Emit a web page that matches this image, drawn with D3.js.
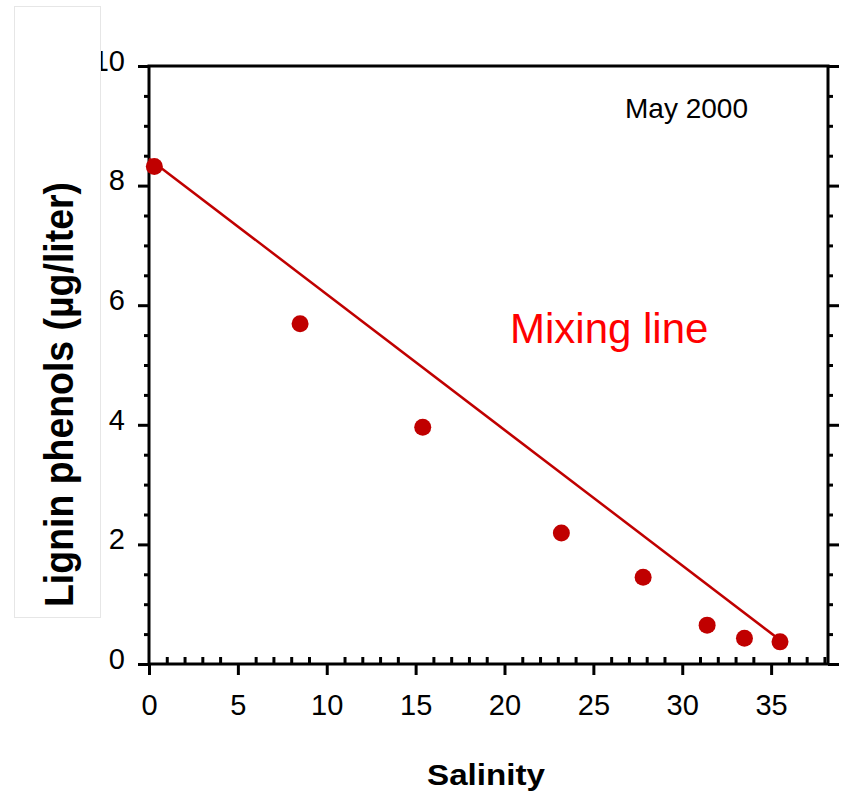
<!DOCTYPE html>
<meta charset="utf-8">
<head>
    <style>
        body { margin: 0; background: #fff; }
        .tick text { font-family: "Liberation Sans", Arial, sans-serif; font-size: 29px; fill: #000; }
        .axis-title { font-family: "Liberation Sans", Arial, sans-serif; font-weight: 700; text-anchor: middle; }
        .note { font-family: "Liberation Sans", Arial, sans-serif; }
    </style>
</head>
<script src="https://d3js.org/d3.v7.min.js"></script>
<div id="chart"></div>
<script>
    // data
    const salinity = [0.3, 8.5, 15.4, 23.2, 27.8, 31.4, 33.5, 35.5];
    const lignin = [8.32, 5.69, 3.96, 2.19, 1.45, 0.65, 0.43, 0.37];
    const mixingSalinity = [0, 35.5];
    const mixingLignin = [8.45, 0.4];
    const xTicks = [0, 5, 10, 15, 20, 25, 30, 35];
    const yTicks = [0, 2, 4, 6, 8, 10];

    const width = 844, height = 795;
    const red = "#c00000";

    const svg = d3.select("#chart").append("svg")
        .attr("width", width)
        .attr("height", height);

    const x = d3.scaleLinear().domain([0, 38.2]).range([149, 828]);
    const y = d3.scaleLinear().domain([0, 10]).range([664, 66]);

    const xMinor = d3.range(1, 39).filter(d => d % 5 != 0);
    const yMinor = d3.range(0.5, 10, 0.5).filter(d => d % 2 != 0);

    function styleAxis(g) {
        g.select(".domain").remove();
        g.selectAll(".tick line").attr("stroke", "#000").attr("stroke-width", 3);
    }

    // left axis
    svg.append("g")
        .attr("transform", "translate(" + x(0) + ",0)")
        .call(d3.axisLeft(y).tickValues(yTicks).tickSize(11).tickPadding(13).tickFormat(d3.format("d")))
        .call(styleAxis)
        .call(g => g.selectAll(".tick text").attr("dy", "0.15em"));
    svg.append("g")
        .attr("transform", "translate(" + x(0) + ",0)")
        .call(d3.axisLeft(y).tickValues(yMinor).tickSize(5).tickFormat(""))
        .call(styleAxis);

    // right axis
    svg.append("g")
        .attr("transform", "translate(" + x(38.2) + ",0)")
        .call(d3.axisRight(y).tickValues(yTicks).tickSize(11).tickFormat(""))
        .call(styleAxis);
    svg.append("g")
        .attr("transform", "translate(" + x(38.2) + ",0)")
        .call(d3.axisRight(y).tickValues(yMinor).tickSize(5).tickFormat(""))
        .call(styleAxis);

    // bottom axis: major ticks outside, minor ticks inside
    svg.append("g")
        .attr("transform", "translate(0," + y(0) + ")")
        .call(d3.axisBottom(x).tickValues(xTicks).tickSize(11).tickPadding(19))
        .call(styleAxis);
    svg.append("g")
        .attr("transform", "translate(0," + y(0) + ")")
        .call(d3.axisTop(x).tickValues(xMinor).tickSize(7).tickFormat(""))
        .call(styleAxis);

    // frame
    svg.append("rect")
        .attr("x", x(0))
        .attr("y", y(10))
        .attr("width", x(38.2) - x(0))
        .attr("height", y(0) - y(10))
        .attr("fill", "none")
        .attr("stroke", "#000")
        .attr("stroke-width", 3);

    // mixing line
    svg.append("line")
        .attr("x1", x(mixingSalinity[0]))
        .attr("y1", y(mixingLignin[0]))
        .attr("x2", x(mixingSalinity[1]))
        .attr("y2", y(mixingLignin[1]))
        .attr("stroke", red)
        .attr("stroke-width", 2.5);

    // points
    svg.selectAll("circle")
        .data(salinity)
        .enter()
        .append("circle")
        .attr("cx", d => x(d))
        .attr("cy", (d, i) => y(lignin[i]))
        .attr("r", 8.5)
        .attr("fill", red);

    svg.append("text")
        .attr("class", "note")
        .attr("x", 510)
        .attr("y", 343)
        .attr("font-size", 42)
        .attr("fill", "#ff0000")
        .text("Mixing line");

    svg.append("text")
        .attr("class", "note")
        .attr("x", 625)
        .attr("y", 118)
        .attr("font-size", 28)
        .attr("fill", "#000")
        .text("May 2000");

    // x title
    svg.append("text")
        .attr("class", "axis-title")
        .attr("x", 486)
        .attr("y", 785)
        .attr("font-size", 30)
        .attr("textLength", 118)
        .attr("lengthAdjust", "spacingAndGlyphs")
        .text("Salinity");

    // y title sits in a white box that overlaps the top tick label
    svg.append("rect")
        .attr("x", 14.5)
        .attr("y", 6.5)
        .attr("width", 86)
        .attr("height", 611)
        .attr("fill", "#fff")
        .attr("stroke", "#e6e6e6")
        .attr("stroke-width", 1);
    svg.append("text")
        .attr("class", "axis-title")
        .attr("transform", "translate(73,394.5) rotate(-90)")
        .attr("font-size", 40)
        .attr("textLength", 425)
        .attr("lengthAdjust", "spacingAndGlyphs")
        .text("Lignin phenols (µg/liter)");
</script>
